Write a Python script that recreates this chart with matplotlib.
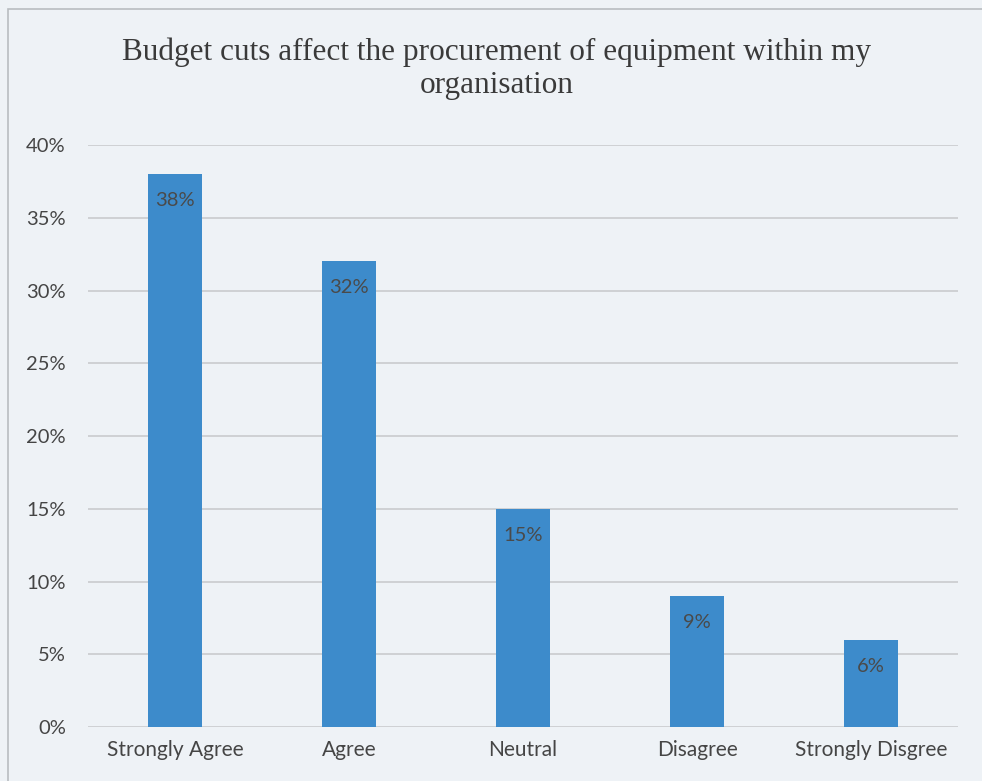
import matplotlib.pyplot as plt
from matplotlib.ticker import PercentFormatter

# Survey responses (share of respondents)
categories = ['Strongly Agree', 'Agree', 'Neutral', 'Disagree', 'Strongly Disgree']
shares = [0.38, 0.32, 0.15, 0.09, 0.06]
title = 'Budget cuts affect the procurement of equipment within my\norganisation'

paper = '#eef2f6'
bar_color = '#3d8bcb'
text_color = '#454545'

fig = plt.figure(figsize=(9.82, 7.81), dpi=100, facecolor=paper)
ax = fig.add_axes([0.0896, 0.0691, 0.886, 0.7452], facecolor=paper)

x = range(len(categories))
bars = ax.bar(x, shares, width=0.31, color=bar_color, zorder=3)

# value labels just inside the top of each bar
for rect, v in zip(bars, shares):
    ax.annotate('%d%%' % round(v * 100),
                (rect.get_x() + rect.get_width() / 2, rect.get_height()),
                xytext=(0, -19), textcoords='offset points',
                ha='center', va='center', fontsize=14.5,
                family='Lato', color='#4a4a4a', zorder=4)

ax.set_xlim(-0.5, len(categories) - 0.5)
ax.set_ylim(0, 0.40)
ax.set_yticks([i * 0.05 for i in range(9)])
ax.yaxis.set_major_formatter(PercentFormatter(1.0, decimals=0))
ax.set_xticks(list(x))
ax.set_xticklabels(categories)

ax.grid(axis='y', color='#c6c8ca', linewidth=1.1, zorder=0)
for s in ax.spines.values():
    s.set_visible(False)
ax.tick_params(length=0, labelcolor=text_color)
ax.tick_params(axis='x', pad=9, labelsize=15)
ax.tick_params(axis='y', pad=16, labelsize=14.5)
for lbl in ax.get_xticklabels() + ax.get_yticklabels():
    lbl.set_family('Lato')

fig.text(0.506, 0.912, title, ha='center', va='center', fontsize=22.5,
         family='Liberation Serif', color='#3a3a3a', linespacing=1.22)

# chart frame
fig.add_artist(plt.Rectangle((0.008, -0.01), 1.1, 0.998, transform=fig.transFigure,
                             fill=False, edgecolor='#b8bcc0', linewidth=1.2))

fig.savefig('out.png', dpi=100, facecolor=paper)
